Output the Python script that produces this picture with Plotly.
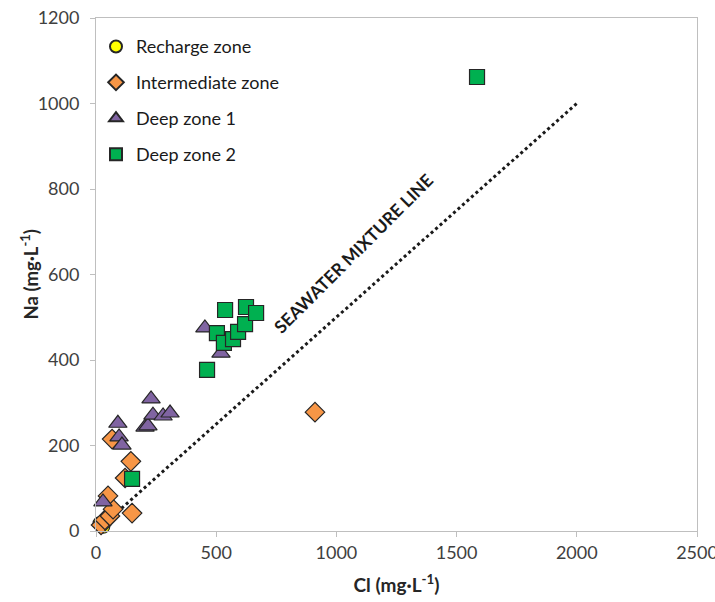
import plotly.graph_objects as go

# Data (mg/L)
recharge_cl = [20, 30, 15]
recharge_na = [15, 10, 18]

inter_cl = [21, 37, 58, 71, 50, 67, 121, 145, 150, 911]
inter_na = [14, 26, 35, 51, 82, 215, 124, 163, 42, 278]

deep1_cl = [29, 91, 96, 108, 204, 216, 229, 237, 279, 308, 453, 520]
deep1_na = [68, 252, 220, 201, 243, 246, 309, 271, 269, 276, 475, 416]

deep2_cl = [150, 462, 503, 532, 570, 591, 620, 537, 624, 666, 1585]
deep2_na = [122, 377, 463, 440, 449, 466, 484, 517, 524, 510, 1062]

seawater_cl = [50, 2000]
seawater_na = [25, 1000]

x_ticks = [0, 500, 1000, 1500, 2000, 2500]
y_ticks = [0, 200, 400, 600, 800, 1000, 1200]

font_family = "Lato, 'Open Sans', sans-serif"

fig = go.Figure()

fig.add_trace(go.Scatter(
    x=seawater_cl, y=seawater_na, mode="lines",
    line=dict(color="#1a1a1a", width=3, dash="dot"),
    showlegend=False, hoverinfo="skip", cliponaxis=False))

outline = dict(color="#262626", width=1.2)
fig.add_trace(go.Scatter(
    x=recharge_cl, y=recharge_na, mode="markers", name="Recharge zone",
    legendgroup="a",
    marker=dict(symbol="circle", size=13, color="#FFFF00", line=outline),
    cliponaxis=False))
fig.add_trace(go.Scatter(
    x=inter_cl, y=inter_na, mode="markers", name="Intermediate zone",
    legendgroup="b",
    marker=dict(symbol="diamond", size=15, color="#F79646", line=outline),
    cliponaxis=False))
fig.add_trace(go.Scatter(
    x=deep1_cl, y=deep1_na, mode="markers", name="Deep zone 1",
    legendgroup="c",
    marker=dict(symbol="triangle-up", size=16, color="#8064A2", line=outline),
    cliponaxis=False))
fig.add_trace(go.Scatter(
    x=deep2_cl, y=deep2_na, mode="markers", name="Deep zone 2",
    legendgroup="d",
    marker=dict(symbol="square", size=15, color="#00B050", line=outline),
    cliponaxis=False))

fig.add_annotation(
    x=1072, y=648, text="<b>SEAWATER MIXTURE LINE</b>", showarrow=False,
    textangle=-45, font=dict(family=font_family, size=17.5, color="#1a1a1a"))

# y-axis title as a paper-positioned annotation
fig.add_annotation(
    xref="paper", yref="paper", x=-0.11, y=0.5, xanchor="center", yanchor="middle",
    text="<b>Na (mg·L<sup>-1</sup>)</b>", showarrow=False, textangle=-90,
    font=dict(family=font_family, size=18.5, color="#262626"))

axis_common = dict(
    showgrid=False, zeroline=False, showline=True, linecolor="#BFBFBF",
    linewidth=1, mirror=True, ticks="outside", tickcolor="#BFBFBF",
    ticklen=5, ticklabeloverflow="allow", automargin=False,
    tickfont=dict(family=font_family, size=18, color="#404040"))

fig.update_xaxes(range=[0, 2500], tickvals=x_ticks,
                 title=dict(text="<b>Cl (mg·L<sup>-1</sup>)</b>",
                            font=dict(family=font_family, size=19, color="#262626"),
                            standoff=17),
                 **axis_common)
fig.update_yaxes(range=[0, 1200], tickvals=y_ticks,
                 ticklabelstandoff=7,
                 **axis_common)

fig.update_layout(
    width=715, height=602,
    margin=dict(l=96, r=18, t=18, b=71),
    plot_bgcolor="white", paper_bgcolor="white",
    font=dict(family=font_family),
    legend=dict(x=0.0, y=0.98, xanchor="left", yanchor="top",
                bgcolor="rgba(0,0,0,0)", tracegroupgap=9.5,
                itemsizing="constant", itemwidth=30,
                font=dict(family=font_family, size=18, color="#1a1a1a")),
)

fig.write_html("out.html")
